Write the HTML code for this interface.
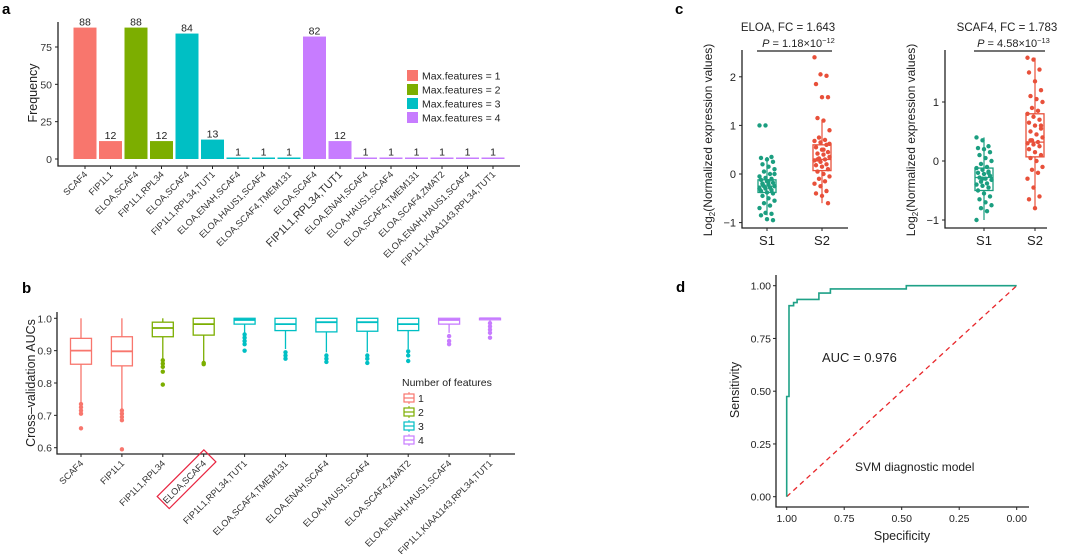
<!DOCTYPE html>
<html><head><meta charset="utf-8"><style>
html,body{margin:0;padding:0;background:#fff}
svg{display:block;font-family:"Liberation Sans",Arial,sans-serif}
</style></head><body>
<svg id="fig" width="1080" height="554" viewBox="0 0 1080 554" xmlns="http://www.w3.org/2000/svg">
<g id="pa"></g>
<g id="pb"></g>
<g id="pc"></g>
<g id="pd"></g>
</svg>
<script>
// ---------- Panel a data ----------
const aCats = ["SCAF4","FIP1L1","ELOA,SCAF4","FIP1L1,RPL34","ELOA,SCAF4","FIP1L1,RPL34,TUT1","ELOA,ENAH,SCAF4","ELOA,HAUS1,SCAF4","ELOA,SCAF4,TMEM131","ELOA,SCAF4","FIP1L1,RPL34,TUT1","ELOA,ENAH,SCAF4","ELOA,HAUS1,SCAF4","ELOA,SCAF4,TMEM131","ELOA,SCAF4,ZMAT2","ELOA,ENAH,HAUS1,SCAF4","FIP1L1,KIAA1143,RPL34,TUT1"];
const aValues = [88,12,88,12,84,13,1,1,1,82,12,1,1,1,1,1,1];
const aGroup = [1,1,2,2,3,3,3,3,3,4,4,4,4,4,4,4,4];
const aTicks = [0,25,50,75];
// ---------- Panel b data ----------
const bCats = ["SCAF4","FIP1L1","FIP1L1,RPL34","ELOA,SCAF4","FIP1L1,RPL34,TUT1","ELOA,SCAF4,TMEM131","ELOA,ENAH,SCAF4","ELOA,HAUS1,SCAF4","ELOA,SCAF4,ZMAT2","ELOA,ENAH,HAUS1,SCAF4","FIP1L1,KIAA1143,RPL34,TUT1"];
const bGroup = [1,1,2,2,3,3,3,3,3,4,4];
const bWhiskHi = [1.0,1.0,1.0,1.0,1.0,1.0,1.0,1.0,1.0,1.0,1.0];
const bQ3 = [0.938,0.943,0.988,1.0,1.0,1.0,1.0,1.0,1.0,1.0,1.0];
const bMedian = [0.9,0.898,0.97,0.982,0.995,0.982,0.988,0.988,0.982,0.995,1.0];
const bQ1 = [0.858,0.853,0.943,0.948,0.982,0.962,0.958,0.96,0.962,0.982,0.998];
const bWhiskLo = [0.74,0.72,0.875,0.865,0.955,0.905,0.895,0.895,0.905,0.955,0.99];
const bOutliers = [[0.735,0.725,0.715,0.705,0.66],[0.715,0.705,0.695,0.685,0.595],[0.87,0.86,0.85,0.835,0.795],[0.862,0.858],[0.95,0.94,0.93,0.92,0.9],[0.895,0.885,0.875],[0.885,0.875,0.865],[0.885,0.875,0.862],[0.898,0.885,0.868],[0.945,0.93,0.92],[0.985,0.975,0.965,0.955,0.94]];
const bTicks = [0.6,0.7,0.8,0.9,1.0];
// ---------- Panel c data ----------
const cEloaS1 = [1.0,1.0,0.35,0.33,0.3,0.25,0.2,0.15,0.1,0.05,0,-0.05,-0.08,-0.1,-0.12,-0.15,-0.18,-0.2,-0.22,-0.25,-0.25,-0.28,-0.3,-0.3,-0.33,-0.35,-0.38,-0.4,-0.45,-0.5,-0.55,-0.6,-0.65,-0.7,-0.8,-0.82,-0.85,-0.93,-0.95,-0.2,-0.15,0.0];
const cEloaS2 = [2.4,2.05,2.02,1.85,1.58,1.58,1.15,1.1,0.9,0.75,0.7,0.68,0.65,0.6,0.55,0.5,0.45,0.42,0.4,0.35,0.32,0.3,0.28,0.25,0.2,0.18,0.15,0.1,0.05,0.0,-0.05,-0.1,-0.15,-0.2,-0.25,-0.35,-0.4,-0.45,-0.6,0.3,0.5,0.62];
const cScafS1 = [0.4,0.35,0.25,0.22,0.2,0.15,0.1,0.05,0,-0.05,-0.1,-0.12,-0.15,-0.18,-0.2,-0.22,-0.25,-0.28,-0.3,-0.32,-0.35,-0.38,-0.4,-0.42,-0.45,-0.5,-0.55,-0.6,-0.65,-0.7,-0.75,-0.8,-0.85,-1.0,-0.3,-0.2];
const cScafS2 = [1.75,1.72,1.55,1.5,1.35,1.2,1.1,1.05,1.0,0.9,0.85,0.8,0.75,0.7,0.65,0.6,0.55,0.5,0.45,0.4,0.35,0.32,0.3,0.28,0.25,0.2,0.15,0.1,0.05,0.0,-0.1,-0.15,-0.2,-0.3,-0.45,-0.6,-0.65,-0.8,0.6,0.35];
const cEloaBox = [[-0.85,-0.38,-0.25,-0.12,0.35],[-0.6,0.07,0.3,0.6,1.12]];
const cScafBox = [[-1.0,-0.5,-0.28,-0.12,0.4],[-0.8,0.07,0.32,0.8,1.75]];
const cEloaTicks = [-1,0,1,2];
const cScafTicks = [-1,0,1];
// ---------- Panel d data ----------
const dSpec = [1,1,0.99,0.99,0.97,0.97,0.955,0.955,0.86,0.86,0.81,0.81,0.48,0.48,0];
const dSens = [0,0.475,0.475,0.905,0.905,0.92,0.92,0.935,0.935,0.965,0.965,0.985,0.985,1.0,1.0];
const dTicks = [0,0.25,0.5,0.75,1.0];

const NS="http://www.w3.org/2000/svg";
const COLS={1:"#F8766D",2:"#7CAE00",3:"#00BFC4",4:"#C77CFF"};
function mk(parent,tag,attrs,txt){const e=document.createElementNS(NS,tag);for(const k in attrs)e.setAttribute(k,attrs[k]);if(txt!==undefined)e.textContent=txt;parent.appendChild(e);return e;}
const fmt2 = v=>v.toFixed(2);

// ===== Panel a =====
(function(){
const g=document.getElementById('pa');
const y0=159, ppu=112/75, x0=85, step=25.5, bw=23;
const ys=v=>y0-v*ppu, xs=i=>x0+i*step;
let t=mk(g,'text',{x:2,y:14,'font-size':15,'font-weight':'bold'},'a');

let ax=mk(g,'path',{d:'M58,22V166H520',fill:'none',stroke:'#222','stroke-width':1.3});

aTicks.forEach(v=>{
 let l=mk(g,'line',{x1:55,x2:58,y1:ys(v),y2:ys(v),stroke:'#222'});
 
 let tt=mk(g,'text',{x:52,y:ys(v)+4,'font-size':10.5,'text-anchor':'end',fill:'#333'},String(v));
 
});
let yl=mk(g,'text',{transform:'translate(37,93) rotate(-90)','font-size':12.5,'text-anchor':'middle',fill:'#222'},'Frequency');

aValues.forEach((v,i)=>{
 let r=mk(g,'rect',{x:xs(i)-bw/2,y:ys(v),width:bw,height:Math.max(v*ppu,1),fill:COLS[aGroup[i]]});
 
 let vl=mk(g,'text',{x:xs(i),y:ys(v)-2,'font-size':10.5,'text-anchor':'middle',fill:'#222'},String(v));
 
 let tk=mk(g,'line',{x1:xs(i),x2:xs(i),y1:166,y2:169,stroke:'#222'});
 
 let xl=mk(g,'text',{transform:`translate(${xs(i)+3},${175}) rotate(-45)`,'font-size':i==10?11:9.2,'text-anchor':'end',fill:'#333'},aCats[i]);
 
});
["Max.features = 1","Max.features = 2","Max.features = 3","Max.features = 4"].forEach((s,k)=>{
 let r=mk(g,'rect',{x:407,y:70+k*14,width:11,height:11,fill:COLS[k+1]});
 
 let tt=mk(g,'text',{x:422,y:79.5+k*14,'font-size':10.5,fill:'#222'},s);
 
});
})();

// ===== Panel b =====
(function(){
const g=document.getElementById('pb');
const ys=v=>318.3+(1-v)*323.5, x0=81, step=40.9, bw=21;
const xs=i=>x0+i*step;
let t=mk(g,'text',{x:22,y:293,'font-size':15,'font-weight':'bold'},'b');

let ax=mk(g,'path',{d:'M57,312V454H515',fill:'none',stroke:'#222','stroke-width':1.3});

bTicks.forEach(v=>{
 let l=mk(g,'line',{x1:54,x2:57,y1:ys(v),y2:ys(v),stroke:'#222'});
 
 let tt=mk(g,'text',{x:52,y:ys(v)+4,'font-size':10.5,'text-anchor':'end',fill:'#333'},v.toFixed(1));
 
});
let yl=mk(g,'text',{transform:'translate(35,383) rotate(-90)','font-size':12.5,'text-anchor':'middle',fill:'#222'},'Cross\u2013validation AUCs');

bCats.forEach((c,i)=>{
 const col=COLS[bGroup[i]], x=xs(i);
 const bx=mk(g,'g',{});
 
 mk(bx,'line',{x1:x,x2:x,y1:ys(bWhiskHi[i]),y2:ys(bQ3[i]),stroke:col,'stroke-width':1.3});
 mk(bx,'line',{x1:x,x2:x,y1:ys(bQ1[i]),y2:ys(bWhiskLo[i]),stroke:col,'stroke-width':1.3});
 mk(bx,'rect',{x:x-bw/2,y:ys(bQ3[i]),width:bw,height:Math.max(ys(bQ1[i])-ys(bQ3[i]),1.5),fill:'#fff',stroke:col,'stroke-width':1.3});
 mk(bx,'line',{x1:x-bw/2,x2:x+bw/2,y1:ys(bMedian[i]),y2:ys(bMedian[i]),stroke:col,'stroke-width':1.8});
 bOutliers[i].forEach(o=>mk(bx,'circle',{cx:x,cy:ys(o),r:2.2,fill:col}));
 let tk=mk(g,'line',{x1:x,x2:x,y1:454,y2:457,stroke:'#222'});
 
 let xl=mk(g,'text',{transform:`translate(${x+3},${464}) rotate(-45)`,'font-size':9.2,'text-anchor':'end',fill:'#333'},c);
 
});
let hl=mk(g,'rect',{x:-58,y:-12,width:66,height:17,fill:'none',stroke:'#E8233F','stroke-width':1.2,transform:`translate(${xs(3)+3},464) rotate(-45)`});

let lt=mk(g,'text',{x:402,y:386,'font-size':10.5,fill:'#222'},'Number of features');

[1,2,3,4].forEach((k,j)=>{
 const cy=398+j*14, col=COLS[k];
 const lg=mk(g,'g',{});
 
 mk(lg,'line',{x1:409,x2:409,y1:cy-6,y2:cy+6,stroke:col});
 mk(lg,'rect',{x:404,y:cy-4,width:10,height:8,fill:'#fff',stroke:col,'stroke-width':1.2});
 mk(lg,'line',{x1:404,x2:414,y1:cy,y2:cy,stroke:col,'stroke-width':1.2});
 mk(lg,'text',{x:418,y:cy+4,'font-size':10.5,fill:'#222'},String(k));
});
})();

// ===== Panel c =====
(function(){
const g=document.getElementById('pc');
const TEAL="#1B9E80", RED="#E8503A";
let t=mk(g,'text',{x:675,y:14,'font-size':15,'font-weight':'bold'},'c');

function sub(o){
 const sg=mk(g,'g',{});
 
 const ys=v=>o.y0-v*o.ppu;
 let ax=mk(sg,'path',{d:`M${o.ax},50V228H${o.ax2}`,fill:'none',stroke:'#222','stroke-width':1.3});
 
 o.ticks.forEach(v=>{
  let l=mk(sg,'line',{x1:o.ax-3,x2:o.ax,y1:ys(v),y2:ys(v),stroke:'#222'});
  
  let tt=mk(sg,'text',{x:o.ax-6,y:ys(v)+4,'font-size':11,'text-anchor':'end',fill:'#222'},v<0?'\u2212'+Math.abs(v):String(v));
  
 });
 let yl=mk(sg,'text',{transform:`translate(${o.ax-30},140) rotate(-90)`,'font-size':12,'text-anchor':'middle',fill:'#222'});
 
 yl.innerHTML='Log<tspan font-size="8" dy="3">2</tspan><tspan dy="-3">(Normalized expression values)</tspan>';
 [[o.x1,'S1',TEAL,o.s1,o.box[0]],[o.x2,'S2',RED,o.s2,o.box[1]]].forEach(([x,lab,col,pts,b])=>{
  let tk=mk(sg,'line',{x1:x,x2:x,y1:228,y2:231,stroke:'#222'});
  
  let xl=mk(sg,'text',{x:x,y:245,'font-size':13,'text-anchor':'middle',fill:'#222'},lab);
  
  const bx=mk(sg,'g',{});
  
  const w=18;
  mk(bx,'line',{x1:x,x2:x,y1:ys(b[4]),y2:ys(b[0]),stroke:col,'stroke-width':1.2});
  mk(bx,'rect',{x:x-w/2,y:ys(b[3]),width:w,height:ys(b[1])-ys(b[3]),fill:'#fff',stroke:col,'stroke-width':1.3});
  mk(bx,'line',{x1:x-w/2,x2:x+w/2,y1:ys(b[2]),y2:ys(b[2]),stroke:col,'stroke-width':1.3});
  pts.forEach((v,i)=>{
   const j=(((i*37)%11)-5)*1.5;
   mk(bx,'circle',{cx:x+j,cy:ys(v),r:2.2,fill:col});
  });
 });
 let ti=mk(sg,'text',{x:o.tx,y:31,'font-size':11.5,'text-anchor':'middle',fill:'#222'},o.title);
 
 let br=mk(sg,'line',{x1:o.x1-10,x2:o.x2+10,y1:51,y2:51,stroke:'#222','stroke-width':1.3});
 
 let pt=mk(sg,'text',{x:(o.x1+o.x2)/2+4,y:47,'font-size':11,'text-anchor':'middle',fill:'#222'});
 
 pt.innerHTML=`<tspan font-style="italic">P</tspan> = ${o.p}\u00d710<tspan font-size="7.5" dy="-4">${o.pe}</tspan>`;
}
sub({name:'eloa-subplot',ax:742,ax2:848,y0:174,ppu:48.6,ticks:cEloaTicks,x1:767,x2:822,s1:cEloaS1,s2:cEloaS2,box:cEloaBox,title:'ELOA, FC = 1.643',tx:788,p:'1.18',pe:'\u221212'});
sub({name:'scaf4-subplot',ax:945,ax2:1047,y0:161,ppu:59,ticks:cScafTicks,x1:984,x2:1035,s1:cScafS1,s2:cScafS2,box:cScafBox,title:'SCAF4, FC = 1.783',tx:1007,p:'4.58',pe:'\u221213'});
})();

// ===== Panel d =====
(function(){
const g=document.getElementById('pd');
const xs=s=>1016.7-s*230, ys=v=>496.7-v*211;
let t=mk(g,'text',{x:676,y:292,'font-size':15,'font-weight':'bold'},'d');

let ax=mk(g,'path',{d:'M776,275V507H1029',fill:'none',stroke:'#222','stroke-width':1.3});

dTicks.forEach(v=>{
 let l=mk(g,'line',{x1:773,x2:776,y1:ys(v),y2:ys(v),stroke:'#222'});
 
 let tt=mk(g,'text',{x:771,y:ys(v)+4,'font-size':10.5,'text-anchor':'end',fill:'#222'},fmt2(v));
 
 let l2=mk(g,'line',{x1:xs(v),x2:xs(v),y1:507,y2:510,stroke:'#222'});
 
 let t2=mk(g,'text',{x:xs(v),y:522,'font-size':10.5,'text-anchor':'middle',fill:'#222'},fmt2(v));
 
});
let xl=mk(g,'text',{x:902,y:540,'font-size':12.5,'text-anchor':'middle',fill:'#222'},'Specificity');

let yl=mk(g,'text',{transform:'translate(739,390) rotate(-90)','font-size':12.5,'text-anchor':'middle',fill:'#222'},'Sensitivity');

let dg=mk(g,'line',{x1:xs(1),y1:ys(0),x2:xs(0),y2:ys(1),stroke:'#E8262A','stroke-width':1.3,'stroke-dasharray':'5,4'});

let d=dSpec.map((s,i)=>(i?'L':'M')+xs(s).toFixed(1)+','+ys(dSens[i]).toFixed(1)).join('');
let roc=mk(g,'path',{d:d,fill:'none',stroke:'#1FA187','stroke-width':1.6});

let au=mk(g,'text',{x:822,y:362,'font-size':13,fill:'#222'},'AUC = 0.976');

let sv=mk(g,'text',{x:855,y:471,'font-size':12,fill:'#222'},'SVM diagnostic model');

})();
</script>
</body></html>
